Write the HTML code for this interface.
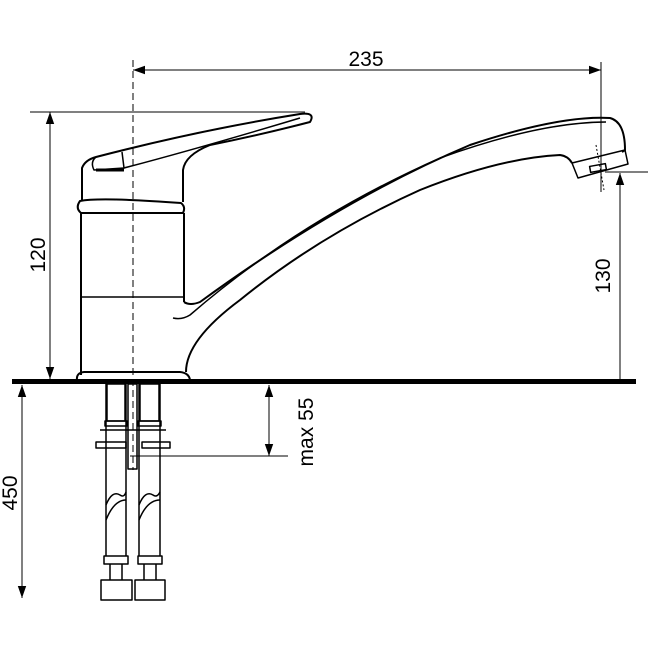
<!DOCTYPE html>
<html><head><style>body{margin:0;background:#fff}svg{display:block}</style></head><body>
<svg width="650" height="650" viewBox="0 0 650 650" xmlns="http://www.w3.org/2000/svg" font-family="Liberation Sans, sans-serif">
<defs><marker id="a" viewBox="0 0 10 10" refX="10" refY="5" markerWidth="12" markerHeight="12" orient="auto-start-reverse" markerUnits="userSpaceOnUse"><path d="M0,1.5 L10,5 L0,8.5 z" fill="#000"/></marker></defs>
<g stroke="#000" fill="none" stroke-width="1">
<line x1="133" y1="70" x2="601" y2="70" marker-start="url(#a)" marker-end="url(#a)"/>
<line x1="601" y1="62" x2="601" y2="192"/>
<line x1="30" y1="112" x2="305" y2="112"/>
<line x1="50" y1="112" x2="50" y2="379" marker-start="url(#a)" marker-end="url(#a)"/>
<line x1="605" y1="172" x2="648" y2="172"/>
<line x1="620" y1="173" x2="620" y2="379" marker-start="url(#a)"/>
<line x1="22" y1="385" x2="22" y2="598" marker-start="url(#a)" marker-end="url(#a)"/>
<line x1="269" y1="385" x2="269" y2="456" marker-start="url(#a)" marker-end="url(#a)"/>
<line x1="130" y1="456" x2="288" y2="456"/>
<line x1="133" y1="60" x2="133" y2="470" stroke-dasharray="7,4"/>
</g>
<rect x="12" y="379" width="624" height="5" fill="#000"/>
<g stroke="#000" fill="none" stroke-width="2" stroke-linejoin="round">
<path d="M81,213 L81,375 M184,213 L184,302"/>
<path d="M81,297 L184,297" stroke-width="1.5"/>
<path d="M77,380 Q76,373 84,372 L180,372 Q189,373 190,380"/>
<path d="M81,213 Q75,208 80,201 Q100,197 181,203 Q186,207 183,213 Z"/>
<path d="M82,200 L82,168 Q85,160 96,157 Q200,130 300,114 Q316,112 310,122 Q260,135 210,145 Q185,155 183,170 L183,202"/>
<path d="M96,157 Q90,162 94,170 L124,168 L122,152" stroke-width="1.5"/>
<path d="M96,170 L124,170" stroke-width="3"/>
<path d="M124,168 Q200,148 300,118" stroke-width="1.5"/>
<path d="M184,302 Q190,306 200,302 Q340,200 470,145 Q560,115 610,118 Q625,122 625,150 L622,152"/>
<path d="M173,318 Q182,320 190,315 Q300,220 440,158 Q540,122 606,122" stroke-width="1.5"/>
<path d="M186,372 Q186,340 240,300 Q320,235 420,190 Q500,158 560,155 Q568,156 572,163"/>
<path d="M572,163 L625,150 L628,164 L578,178 Z" stroke-width="1.5"/>
<rect x="590" y="165" width="16" height="6" transform="rotate(-10 598 168)" stroke-width="1.5"/>
<g stroke-width="1.5">
<path d="M106,384 L106,556 M126,384 L126,556 M139,384 L139,556 M160,384 L160,556"/>
<rect x="107" y="384" width="18" height="37"/><rect x="140" y="384" width="19" height="37"/>
<rect x="105" y="421" width="22" height="5"/><rect x="138" y="421" width="23" height="5"/>
<line x1="100" y1="430" x2="166" y2="430"/>
<rect x="96" y="442" width="30" height="6"/><rect x="142" y="442" width="28" height="6"/>
<rect x="128" y="384" width="9" height="85"/>
<path d="M106,505 Q112,490 120,495 Q124,498 126,492 M106,520 Q114,500 126,500"/>
<path d="M139,505 Q145,490 153,495 Q157,498 160,492 M139,520 Q147,500 160,500"/>
<rect x="104" y="556" width="24" height="8"/><rect x="138" y="556" width="24" height="8"/>
<path d="M110,564 L110,580 M122,564 L122,580 M144,564 L144,580 M156,564 L156,580"/>
<rect x="101" y="580" width="31" height="20"/><rect x="135" y="580" width="30" height="20"/>
</g>
</g>
<line x1="596" y1="145" x2="604" y2="190" stroke="#000" stroke-width="1" stroke-dasharray="2,2"/>
<g font-size="21" fill="#000">
<text x="366" y="66" text-anchor="middle">235</text>
<text transform="translate(45,255) rotate(-90)" text-anchor="middle">120</text>
<text transform="translate(610,276) rotate(-90)" text-anchor="middle">130</text>
<text transform="translate(17,493) rotate(-90)" text-anchor="middle">450</text>
<text transform="translate(313,432) rotate(-90)" text-anchor="middle">max 55</text>
</g>
</svg>
</body></html>
